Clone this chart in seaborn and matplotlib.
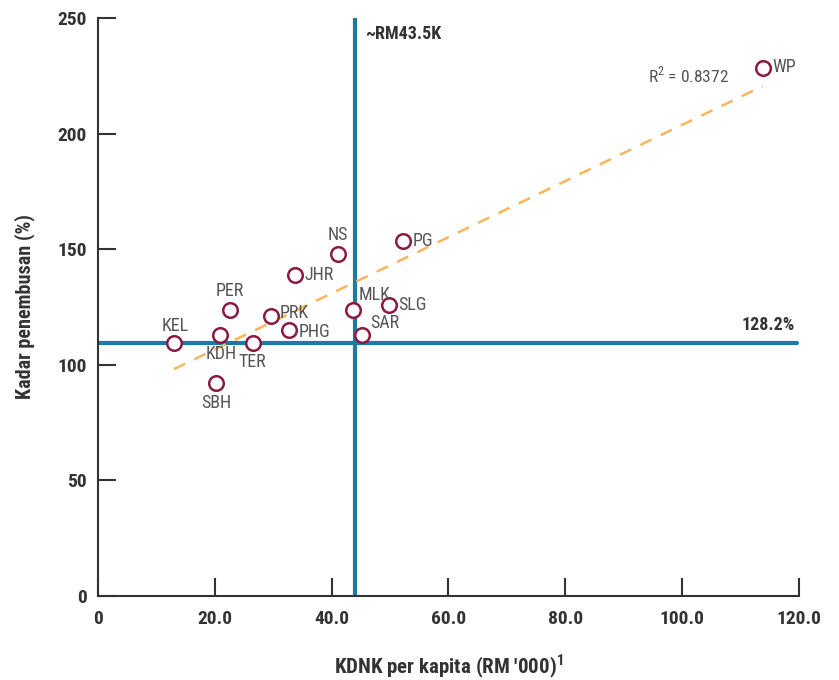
import matplotlib
matplotlib.use("Agg")
import matplotlib.pyplot as plt
import seaborn as sns
import numpy as np
import pandas as pd

# ---- data ----
states = ["WP", "PG", "NS", "JHR", "PER", "MLK", "SLG", "PRK", "PHG", "SAR", "KDH", "KEL", "TER", "SBH"]
gdp_per_capita = [113.8, 52.2, 41.1, 33.7, 22.6, 43.6, 49.8, 29.6, 32.7, 45.2, 20.9, 13.0, 26.5, 20.2]
penetration = [228.4, 153.5, 147.9, 138.8, 123.9, 123.7, 125.9, 121.0, 115.0, 112.9, 112.7, 109.4, 109.3, 92.1]
vline_value = 44.0
vline_label = "~RM43.5K"
hline_value = 109.3
hline_label = "128.2%"
r2_label = "R$^{\\mathregular{2}}$ = 0.8372"
x_ticks = [0, 20, 40, 60, 80, 100, 120]
x_tick_labels = ["0", "20.0", "40.0", "60.0", "80.0", "100.0", "120.0"]
y_ticks = [0, 50, 100, 150, 200, 250]
x_label = "KDNK per kapita (RM '000)$^{\\mathregular{1}}$"
y_label = "Kadar penembusan (%)"

# label placement (offset in points, ha, va)
label_pos = {
    "WP": (7, 1, "left", "center"),
    "PG": (7, 0, "left", "center"),
    "NS": (0, 7, "center", "bottom"),
    "JHR": (7, 0, "left", "center"),
    "PER": (0, 7, "center", "bottom"),
    "MLK": (4, 4, "left", "bottom"),
    "SLG": (7, 0, "left", "center"),
    "PRK": (6, 2, "left", "center"),
    "PHG": (7, -1, "left", "center"),
    "SAR": (6, 2, "left", "bottom"),
    "KDH": (1, -7, "center", "top"),
    "KEL": (1, 6, "center", "bottom"),
    "TER": (0, -7, "center", "top"),
    "SBH": (0, -8, "center", "top"),
}

df = pd.DataFrame({"state": states, "x": gdp_per_capita, "y": penetration})

sns.set_theme(style="white")
plt.rcParams["font.family"] = ["Roboto Condensed", "Roboto", "DejaVu Sans"]

fig = plt.figure(figsize=(8.39, 6.8), dpi=100)
ax = fig.add_axes([0.1168, 0.1235, 0.8355, 0.85])

blue = "#1a7ba3"
maroon = "#8c1a3e"
orange = "#fbb55c"
dark = "#333333"

ax.axvline(vline_value, color=blue, lw=3, zorder=1)
ax.axhline(hline_value, color=blue, lw=3, xmax=0.9975, zorder=1)

sns.regplot(data=df, x="x", y="y", ax=ax, ci=None, scatter=False,
            line_kws=dict(color=orange, lw=1.8, ls=(0, (5, 4))))

sns.scatterplot(data=df, x="x", y="y", ax=ax, s=110, facecolor="white",
                edgecolor=maroon, linewidth=1.8, zorder=3, legend=False)

for s, xv, yv in zip(states, gdp_per_capita, penetration):
    dx, dy, ha, va = label_pos[s]
    ax.annotate(s, (xv, yv), xytext=(dx, dy), textcoords="offset points",
                ha=ha, va=va, fontsize=13, color="#555555", zorder=4)

ax.text(vline_value + 1.8, 243, vline_label, ha="left", va="center",
        fontsize=13, fontweight="bold", color=dark)
ax.text(119.3, hline_value + 4, hline_label, ha="right", va="bottom",
        fontsize=13, fontweight="bold", color=dark)
ax.text(101, 225.5, r2_label, ha="center", va="center", fontsize=12.5, color="#555555")

ax.set_xlim(0, 120)
ax.set_ylim(0, 250)
ax.set_xticks(x_ticks)
ax.set_xticklabels(x_tick_labels)
ax.set_yticks(y_ticks)
ax.tick_params(axis="both", direction="in", length=13, width=1.5, color=dark,
               labelsize=14, labelcolor=dark, pad=8, bottom=True, left=True)
ax.tick_params(axis="x", pad=10)
for lab in ax.get_xticklabels() + ax.get_yticklabels():
    lab.set_fontweight("bold")

for side in ["top", "right"]:
    ax.spines[side].set_visible(False)
for side in ["left", "bottom"]:
    ax.spines[side].set_color(dark)
    ax.spines[side].set_linewidth(1.5)

ax.set_xlabel(x_label, fontsize=15, fontweight="bold", color=dark, labelpad=17)
ax.set_ylabel(y_label, fontsize=14.5, fontweight="bold", color=dark, labelpad=16)

fig.savefig("out.png", dpi=100)
